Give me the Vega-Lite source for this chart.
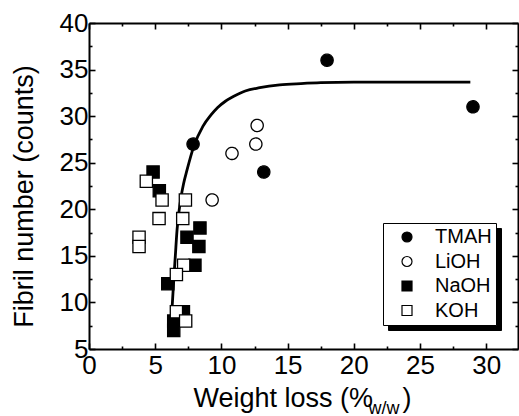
{
  "$schema": "https://vega.github.io/schema/vega-lite/v6.json",
  "width": 429,
  "height": 326,
  "autosize": {"type": "none"},
  "padding": {"left": 89, "top": 23, "right": 1, "bottom": 67},
  "background": "white",
  "config": {
    "view": {"stroke": null},
    "axis": {
      "grid": false,
      "domain": true,
      "ticks": true,
      "domainColor": "black",
      "domainWidth": 2,
      "tickColor": "black",
      "tickWidth": 1.6,
      "tickSize": -6,
      "labelFont": "Liberation Sans",
      "labelFontSize": 26,
      "labelColor": "black",
      "titleFont": "Liberation Sans",
      "titleFontSize": 27,
      "titleFontWeight": "normal",
      "titleColor": "black"
    }
  },
  "datasets": {
    "fit": [
      {"x": 6.18, "y": 7.5}, {"x": 6.3, "y": 10}, {"x": 6.4, "y": 12.4}, {"x": 6.52, "y": 15},
      {"x": 6.65, "y": 17.8}, {"x": 6.8, "y": 19.8}, {"x": 6.95, "y": 21.3}, {"x": 7.15, "y": 22.8},
      {"x": 7.4, "y": 24.2}, {"x": 7.9, "y": 26.7}, {"x": 8.6, "y": 28.9}, {"x": 9.2, "y": 30.1},
      {"x": 9.7, "y": 30.9}, {"x": 10.3, "y": 31.6}, {"x": 10.9, "y": 32.1}, {"x": 11.8, "y": 32.7},
      {"x": 12.9, "y": 33.05}, {"x": 14.4, "y": 33.35}, {"x": 16, "y": 33.5}, {"x": 17.5, "y": 33.6},
      {"x": 20, "y": 33.65}, {"x": 24, "y": 33.65}, {"x": 28.8, "y": 33.65}
    ],
    "pts": [
      {"x": 17.98, "y": 36, "series": "TMAH"},
      {"x": 29.0, "y": 31, "series": "TMAH"},
      {"x": 7.86, "y": 27, "series": "TMAH"},
      {"x": 13.2, "y": 24, "series": "TMAH"},
      {"x": 12.7, "y": 29, "series": "LiOH"},
      {"x": 12.6, "y": 27, "series": "LiOH"},
      {"x": 10.8, "y": 26, "series": "LiOH"},
      {"x": 9.3, "y": 21, "series": "LiOH"},
      {"x": 4.84, "y": 24, "series": "NaOH"},
      {"x": 5.31, "y": 22, "series": "NaOH"},
      {"x": 7.4, "y": 17, "series": "NaOH"},
      {"x": 8.38, "y": 18, "series": "NaOH"},
      {"x": 8.3, "y": 16, "series": "NaOH"},
      {"x": 8.0, "y": 14, "series": "NaOH"},
      {"x": 5.95, "y": 12, "series": "NaOH"},
      {"x": 7.13, "y": 9, "series": "NaOH"},
      {"x": 6.4, "y": 8, "series": "NaOH"},
      {"x": 6.4, "y": 7, "series": "NaOH"},
      {"x": 4.33, "y": 23, "series": "KOH"},
      {"x": 5.52, "y": 21, "series": "KOH"},
      {"x": 5.29, "y": 19, "series": "KOH"},
      {"x": 3.78, "y": 17, "series": "KOH"},
      {"x": 3.78, "y": 16, "series": "KOH"},
      {"x": 7.28, "y": 21, "series": "KOH"},
      {"x": 7.08, "y": 19, "series": "KOH"},
      {"x": 7.15, "y": 14, "series": "KOH"},
      {"x": 6.6, "y": 13, "series": "KOH"},
      {"x": 6.6, "y": 9, "series": "KOH"},
      {"x": 7.3, "y": 8, "series": "KOH"}
    ]
  },
  "layer": [
    {
      "data": {"name": "fit"},
      "mark": {"type": "line", "color": "black", "strokeWidth": 2.8, "interpolate": "monotone"},
      "encoding": {
        "x": {
          "field": "x", "type": "quantitative",
          "scale": {"domain": [0, 32.4], "nice": false, "zero": false},
          "axis": {
            "orient": "bottom",
            "values": [0, 2.5, 5, 7.5, 10, 12.5, 15, 17.5, 20, 22.5, 25, 27.5, 30],
            "labelExpr": "datum.value % 5 === 0 ? format(datum.value, 'd') : ''",
            "tickSize": -6,
            "tickDash": {"condition": {"test": "datum.value % 5 !== 0", "value": [3, 10]}, "value": [10, 0]},
            "labelPadding": 9,
            "labelBaseline": "top",
            "labelFlush": false,
            "labelOverlap": false,
            "title": "Weight loss (%",
            "titleX": 104,
            "titleY": 57,
            "titleAlign": "left",
            "titleBaseline": "alphabetic",
            "titleAngle": 0
          }
        },
        "y": {
          "field": "y", "type": "quantitative",
          "scale": {"domain": [5, 40], "nice": false, "zero": false},
          "axis": {
            "orient": "left",
            "values": [5, 7.5, 10, 12.5, 15, 17.5, 20, 22.5, 25, 27.5, 30, 32.5, 35, 37.5, 40],
            "labelExpr": "datum.value % 5 === 0 ? format(datum.value, 'd') : ''",
            "tickSize": -6,
            "tickDash": {"condition": {"test": "datum.value % 5 !== 0", "value": [3, 10]}, "value": [10, 0]},
            "labelPadding": 7,
            "labelFlush": false,
            "labelOverlap": false,
            "title": "Fibril number (counts)",
            "titleX": -57,
            "titleY": 173,
            "titleAngle": 270,
            "titleAlign": "center",
            "titleBaseline": "alphabetic"
          }
        }
      }
    },
    {
      "data": {"name": "pts"},
      "mark": {"type": "point", "filled": true, "stroke": "black", "strokeWidth": 1.3, "size": 150, "opacity": 1},
      "encoding": {
        "x": {
          "field": "x", "type": "quantitative",
          "axis": {
            "orient": "top",
            "domain": true,
            "ticks": true,
            "values": [0, 2.5, 5, 7.5, 10, 12.5, 15, 17.5, 20, 22.5, 25, 27.5, 30],
            "labels": false,
            "tickSize": -6,
            "tickDash": {"condition": {"test": "datum.value % 5 !== 0", "value": [3, 10]}, "value": [10, 0]},
            "title": "w/w",
            "titleFontSize": 18,
            "titleX": 279,
            "titleY": 390,
            "titleAngle": 0,
            "titleAlign": "left",
            "titleBaseline": "alphabetic"
          }
        },
        "y": {
          "field": "y", "type": "quantitative",
          "axis": {
            "orient": "right",
            "domain": true,
            "ticks": true,
            "values": [5, 7.5, 10, 12.5, 15, 17.5, 20, 22.5, 25, 27.5, 30, 32.5, 35, 37.5, 40],
            "labels": false,
            "tickSize": -6,
            "tickDash": {"condition": {"test": "datum.value % 5 !== 0", "value": [3, 10]}, "value": [10, 0]},
            "title": ")",
            "titleX": -116,
            "titleY": 383,
            "titleAngle": 0,
            "titleAlign": "left",
            "titleBaseline": "alphabetic"
          }
        },
        "shape": {
          "field": "series", "type": "nominal",
          "scale": {"domain": ["TMAH", "LiOH", "NaOH", "KOH"], "range": ["circle", "circle", "square", "square"]},
          "legend": {
            "title": null, "orient": "none", "legendX": 294, "legendY": 200,
            "fillColor": "white", "strokeColor": "black", "padding": 4,
            "labelFont": "Liberation Sans", "labelFontSize": 20, "labelColor": "black",
            "symbolSize": 100, "symbolStrokeWidth": 1.2,
            "rowPadding": 4.5, "symbolOffset": 10, "labelOffset": 18, "zindex": 2
          }
        },
        "fill": {
          "field": "series", "type": "nominal",
          "scale": {"domain": ["TMAH", "LiOH", "NaOH", "KOH"], "range": ["black", "white", "black", "white"]},
          "legend": {
            "title": null, "orient": "none", "legendX": 294, "legendY": 200,
            "fillColor": "white", "strokeColor": "black", "padding": 4,
            "labelFont": "Liberation Sans", "labelFontSize": 20, "labelColor": "black",
            "symbolSize": 100, "symbolStrokeWidth": 1.2,
            "rowPadding": 4.5, "symbolOffset": 10, "labelOffset": 18, "zindex": 2
          }
        },
        "strokeDash": {
          "field": "series", "type": "nominal",
          "scale": {"domain": ["LiOH", "TMAH", "NaOH", "KOH"], "range": [[1, 0], [1, 0], [1, 0], [1, 0]]},
          "legend": {
            "title": null, "orient": "none", "legendX": 299, "legendY": 205,
            "fillColor": "black", "strokeColor": "black", "padding": 4,
            "labelFont": "Liberation Sans", "labelFontSize": 20, "labelColor": "black",
            "symbolSize": 100, "symbolOpacity": 0,
            "rowPadding": 4.5, "symbolOffset": 10, "labelOffset": 18, "zindex": 1
          }
        }
      }
    }
  ],
  "resolve": {"axis": {"x": "independent", "y": "independent"}}
}
